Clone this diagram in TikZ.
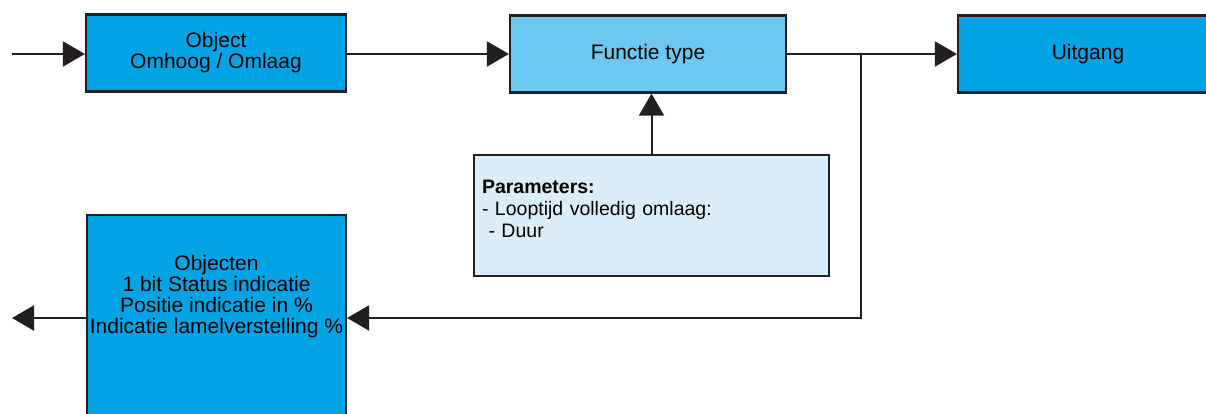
\documentclass[tikz,border=0pt]{standalone}
\usepackage{fontspec}
\setmainfont{Liberation Sans}
\usetikzlibrary{arrows.meta}
\definecolor{rand}{HTML}{231F20}
\definecolor{blauw}{HTML}{00A3E3}
\definecolor{midblauw}{HTML}{6DC8F1}
\definecolor{lichtblauw}{HTML}{DAEEF9}
\begin{document}
\begin{tikzpicture}[x=1pt,y=-1pt,
  blok/.style={draw=rand,line width=2.2pt,fill=blauw,minimum width=260pt,minimum height=77pt,inner sep=1pt,align=center,font=\fontsize{21}{21}\selectfont},
  lijn/.style={draw=rand,line width=2pt},
  pijl/.style={lijn,-{Triangle[length=22pt,width=25pt]}}]
\useasboundingbox (0,0) rectangle (1206,414);
\node[blok] (obj) at (216,53) {Object\\Omhoog / Omlaag};
\node[blok,fill=midblauw,minimum width=276pt] (func) at (648,54) {Functie type};
\node[blok] (uit) at (1088,54) {Uitgang};
\node[blok,fill=lichtblauw,minimum width=355pt,minimum height=121pt,text width=339pt,align=left,text depth=58pt,font=\fontsize{19.5}{22}\selectfont] (par) at (651.5,215.5) {\textbf{Parameters:}\\- Looptijd volledig omlaag:\\ \ - Duur};
\node[blok,minimum width=259pt,minimum height=206pt,text depth=47pt] (objn) at (216.5,318) {Objecten\\1 bit Status indicatie\\Positie indicatie in \%\\Indicatie lamelverstelling \%};
\coordinate (in) at (12,54);
\coordinate (out) at (12,318);
\coordinate (split) at (861,54);
\draw[pijl] (in) -- (obj.west |- in);
\draw[pijl] (obj.east |- split) -- (func.west);
\draw[pijl] (func.east) -- (uit.west);
\draw[pijl] (par.north) -- (par.north |- func.south);
\draw[pijl] (split) |- (objn.east);
\draw[pijl] (objn.west) -- (out);
\end{tikzpicture}
\end{document}
